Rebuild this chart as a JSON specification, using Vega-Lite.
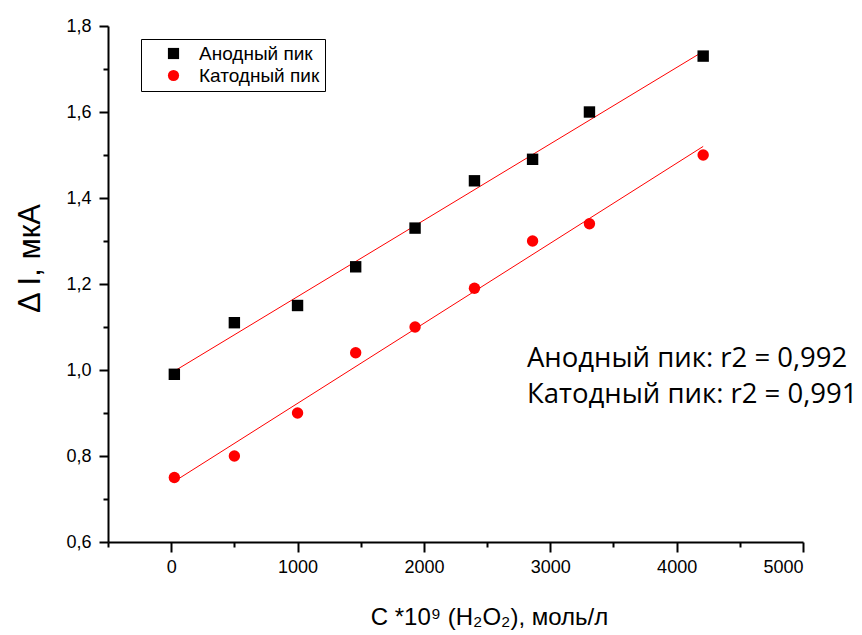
{
  "$schema": "https://vega.github.io/schema/vega-lite/v6.json",
  "autosize": {"type": "none"},
  "width": 695,
  "height": 516,
  "padding": {"left": 108, "top": 26, "right": 59, "bottom": 93},
  "background": "white",
  "config": {"view": {"stroke": null}},
  "datasets": {
    "pts": [
      {"c": 25, "i": 0.99, "s": "Анодный пик"},
      {"c": 500, "i": 1.11, "s": "Анодный пик"},
      {"c": 1000, "i": 1.15, "s": "Анодный пик"},
      {"c": 1460, "i": 1.24, "s": "Анодный пик"},
      {"c": 1930, "i": 1.33, "s": "Анодный пик"},
      {"c": 2400, "i": 1.44, "s": "Анодный пик"},
      {"c": 2860, "i": 1.49, "s": "Анодный пик"},
      {"c": 3310, "i": 1.60, "s": "Анодный пик"},
      {"c": 4210, "i": 1.73, "s": "Анодный пик"},
      {"c": 25, "i": 0.75, "s": "Катодный пик"},
      {"c": 500, "i": 0.80, "s": "Катодный пик"},
      {"c": 1000, "i": 0.90, "s": "Катодный пик"},
      {"c": 1460, "i": 1.04, "s": "Катодный пик"},
      {"c": 1930, "i": 1.10, "s": "Катодный пик"},
      {"c": 2400, "i": 1.19, "s": "Катодный пик"},
      {"c": 2860, "i": 1.30, "s": "Катодный пик"},
      {"c": 3310, "i": 1.34, "s": "Катодный пик"},
      {"c": 4210, "i": 1.50, "s": "Катодный пик"}
    ],
    "notes": [
      {"c": 2815, "i": 1.007, "t": "Анодный пик: r2 = 0,992"},
      {"c": 2815, "i": 0.923, "t": "Катодный пик: r2 = 0,991"}
    ]
  },
  "layer": [
    {
      "data": {"name": "pts"},
      "transform": [{"regression": "i", "on": "c", "groupby": ["s"]}],
      "mark": {"type": "line", "color": "#ff0000", "strokeWidth": 1},
      "encoding": {
        "x": {"field": "c", "type": "quantitative"},
        "y": {"field": "i", "type": "quantitative"},
        "detail": {"field": "s"}
      }
    },
    {
      "data": {"name": "pts"},
      "mark": {"type": "point", "filled": true, "opacity": 1, "size": 130},
      "encoding": {
        "x": {
          "field": "c", "type": "quantitative",
          "scale": {"domain": [-500, 5000], "nice": false, "zero": false},
          "axis": {
            "values": [-500, 0, 500, 1000, 1500, 2000, 2500, 3000, 3500, 4000, 4500, 5000],
            "labelExpr": "datum.value % 1000 == 0 ? format(datum.value, 'd') : ''",
            "grid": false,
            "domainColor": "black", "domainWidth": 2,
            "tickColor": "black", "tickWidth": 2,
            "tickSize": {"condition": {"test": "datum.value % 1000 == 0", "value": 10}, "value": 5},
            "labelFont": "Liberation Sans", "labelFontSize": 18, "labelColor": "black",
            "labelPadding": 6,
            "title": "C *10⁹ (H₂O₂), моль/л",
            "titleFont": "Liberation Sans", "titleFontSize": 24, "titleFontWeight": "normal",
            "titleColor": "black",
            "titleX": 381, "titleY": 82, "titleBaseline": "alphabetic"
          }
        },
        "y": {
          "field": "i", "type": "quantitative",
          "scale": {"domain": [0.6, 1.8], "nice": false, "zero": false},
          "axis": {
            "values": [0.6, 0.7, 0.8, 0.9, 1.0, 1.1, 1.2, 1.3, 1.4, 1.5, 1.6, 1.7, 1.8],
            "labelExpr": "round(datum.value * 10) % 2 == 0 ? replace(format(datum.value, '.1f'), '.', ',') : ''",
            "grid": false,
            "domainColor": "black", "domainWidth": 2,
            "tickColor": "black", "tickWidth": 2,
            "tickSize": {"condition": {"test": "round(datum.value * 10) % 2 == 0", "value": 9}, "value": 5},
            "labelFont": "Liberation Sans", "labelFontSize": 18, "labelColor": "black",
            "labelPadding": 8,
            "title": "Δ I, мкА",
            "titleFont": "Liberation Sans", "titleFontSize": 31, "titleFontWeight": "normal",
            "titleColor": "black",
            "titleX": -78, "titleY": 232, "titleAngle": -90, "titleAlign": "center", "titleBaseline": "middle"
          }
        },
        "shape": {
          "field": "s", "type": "nominal",
          "scale": {"domain": ["Анодный пик", "Катодный пик"], "range": ["square", "circle"]},
          "legend": null
        },
        "color": {
          "field": "s", "type": "nominal",
          "scale": {"domain": ["Анодный пик", "Катодный пик"], "range": ["#000000", "#ff0000"]},
          "legend": {
            "title": null,
            "orient": "none", "legendX": 33, "legendY": 13,
            "strokeColor": "black", "fillColor": "white",
            "padding": 5,
            "symbolSize": 125, "symbolOpacity": 1,
            "labelFont": "Liberation Sans", "labelFontSize": 19, "labelColor": "black",
            "labelOffset": 16, "rowPadding": 2,
            "symbolOffset": 18
          }
        }
      }
    },
    {
      "data": {"name": "notes"},
      "mark": {"type": "text", "align": "left", "baseline": "alphabetic", "font": "Open Sans", "fontSize": 27.5, "color": "black"},
      "encoding": {
        "x": {"field": "c", "type": "quantitative"},
        "y": {"field": "i", "type": "quantitative"},
        "text": {"field": "t"}
      }
    }
  ]
}
